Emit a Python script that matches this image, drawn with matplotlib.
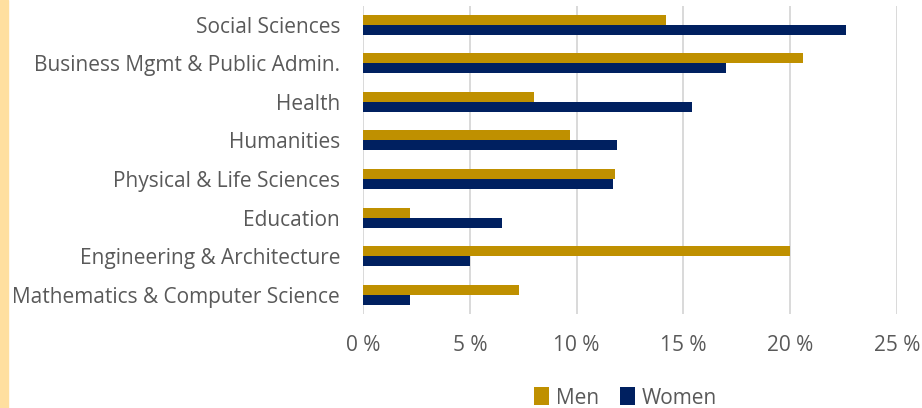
import numpy as np
import matplotlib.pyplot as plt
from matplotlib.patches import Rectangle
from matplotlib.ticker import FuncFormatter

categories = ['Social Sciences', 'Business Mgmt & Public Admin.', 'Health', 'Humanities',
              'Physical & Life Sciences', 'Education', 'Engineering & Architecture',
              'Mathematics & Computer Science']
men = [14.2, 20.6, 8.0, 9.7, 11.8, 2.2, 20.0, 7.3]
women = [22.6, 17.0, 15.4, 11.9, 11.7, 6.5, 5.0, 2.2]
ticks = [0, 5, 10, 15, 20, 25]

gold = '#BF9000'
navy = '#002060'
text_col = '#595959'

plt.rcParams['font.family'] = ['Open Sans', 'DejaVu Sans']

fig = plt.figure(figsize=(9.22, 4.08), dpi=100)
ax = fig.add_axes([363 / 922, 1 - 314 / 408, 534 / 922, 308.5 / 408])

y = np.arange(len(categories))
h = 0.26
ax.barh(y - h / 2, men, height=h, color=gold, label='Men')
ax.barh(y + h / 2, women, height=h, color=navy, label='Women')

ax.set_ylim(len(categories) - 0.5, -0.5)
ax.set_xlim(0, 25)
ax.set_xticks(ticks)
ax.xaxis.set_major_formatter(FuncFormatter(lambda v, p: f'{v:.0f} %'))
ax.set_yticks(y)
ax.set_yticklabels(categories)
ax.tick_params(axis='both', length=0, labelsize=15, colors=text_col)
ax.tick_params(axis='x', pad=15)
ax.tick_params(axis='y', pad=16.5)
ax.grid(axis='x', color='#d9d9d9', linewidth=1.4)
ax.set_axisbelow(True)
for s in ax.spines.values():
    s.set_visible(False)

leg = fig.legend(loc='center', bbox_to_anchor=(625.5 / 922, 1 - 398 / 408), ncol=2, frameon=False,
                 fontsize=15, handlelength=0.72, handleheight=0.95, handletextpad=0.32,
                 columnspacing=1.0, labelcolor=text_col, borderpad=0, borderaxespad=0)

# light yellow stripe on the left edge
fig.patches.append(Rectangle((0, 0), 8 / 922, 1, transform=fig.transFigure,
                             color='#FFDF9F', zorder=0))

plt.savefig('out.png', dpi=100)
